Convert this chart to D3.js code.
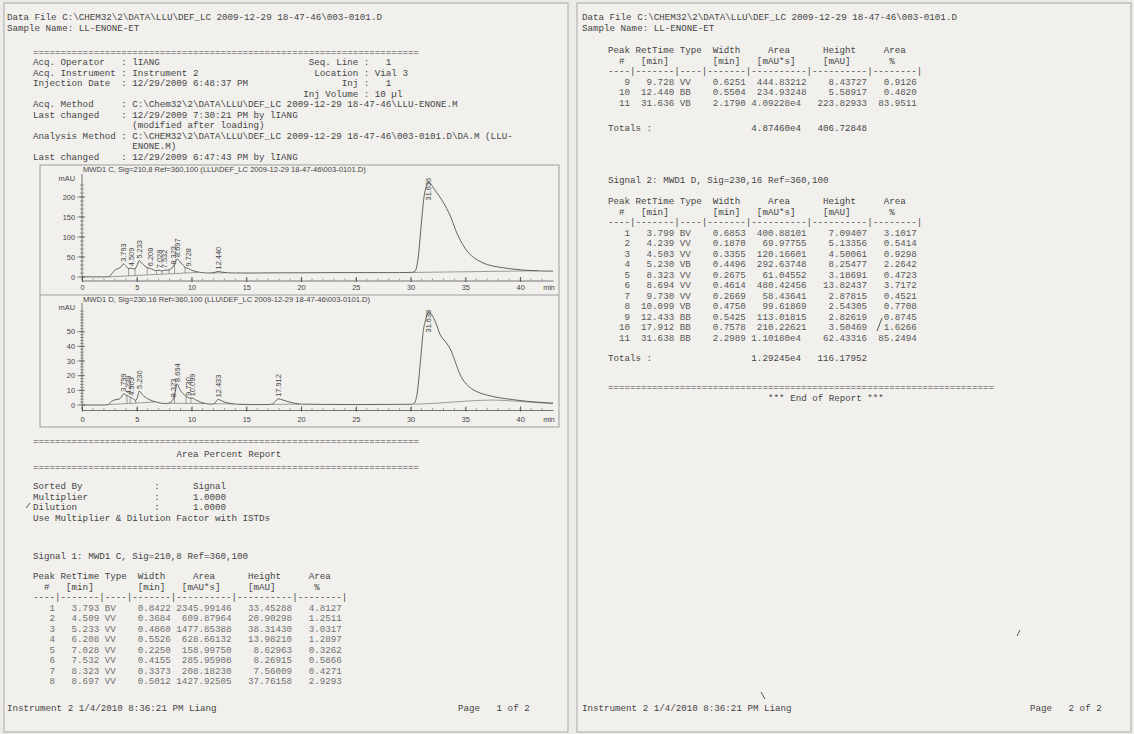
<!DOCTYPE html>
<html>
<head>
<meta charset="utf-8">
<script src="https://cdnjs.cloudflare.com/ajax/libs/d3/7.8.5/d3.min.js"></script>
<style>
  html, body { margin: 0; padding: 0; background: #ecebe8; }
  svg { display: block; }
  .mono { font-family: "Liberation Mono", "Courier New", monospace; font-size: 9.2px; fill: #454545; }
  .sans { font-family: "Liberation Sans", Arial, sans-serif; fill: #444; }
</style>
</head>
<body>
<svg id="sheet" width="1134" height="734"></svg>
<script>
// ---------------- report text ----------------
const dataFileLine = "Data File C:\\CHEM32\\2\\DATA\\LLU\\DEF_LC 2009-12-29 18-47-46\\003-0101.D";
const sampleLine = "Sample Name: LL-ENONE-ET";
const footerLeft = "Instrument 2 1/4/2010 8:36:21 PM Liang";

// [label, value, right label, right value]
const acqFields = [
  ["Acq. Operator", "lIANG", "Seq. Line", "  1"],
  ["Acq. Instrument", "Instrument 2", "Location", "Vial 3"],
  ["Injection Date", "12/29/2009 6:48:37 PM", "Inj", "  1"],
  ["", "", "Inj Volume", "10 µl"],
  ["Acq. Method", "C:\\Chem32\\2\\DATA\\LLU\\DEF_LC 2009-12-29 18-47-46\\LLU-ENONE.M"],
  ["Last changed", "12/29/2009 7:30:21 PM by lIANG"],
  ["", "(modified after loading)"],
  ["Analysis Method", "C:\\CHEM32\\2\\DATA\\LLU\\DEF_LC 2009-12-29 18-47-46\\003-0101.D\\DA.M (LLU-"],
  ["", "ENONE.M)"],
  ["Last changed", "12/29/2009 6:47:43 PM by lIANG"]
];

const reportFields = [
  ["Sorted By", "Signal"],
  ["Multiplier", "1.0000"],
  ["Dilution", "1.0000"]
];

const signal1Name = "Signal 1: MWD1 C, Sig=210,8 Ref=360,100";
const signal2Name = "Signal 2: MWD1 D, Sig=230,16 Ref=360,100";

// peak tables: peak, RetTime, Type, Width, Area, Height, Area%
const signal1Peaks = [
  [1, "3.793", "BV", "0.8422", "2345.99146", "33.45288", "4.8127"],
  [2, "4.509", "VV", "0.3684", "609.87964", "20.90298", "1.2511"],
  [3, "5.233", "VV", "0.4860", "1477.85388", "38.31430", "3.0317"],
  [4, "6.208", "VV", "0.5526", "628.66132", "13.98210", "1.2897"],
  [5, "7.028", "VV", "0.2250", "158.99750", "8.62963", "0.3262"],
  [6, "7.532", "VV", "0.4155", "285.95908", "8.26915", "0.5866"],
  [7, "8.323", "VV", "0.3373", "208.18230", "7.56009", "0.4271"],
  [8, "8.697", "VV", "0.5012", "1427.92505", "37.76158", "2.9293"],
  [9, "9.728", "VV", "0.6251", "444.83212", "8.43727", "0.9126"],
  [10, "12.440", "BB", "0.5504", "234.93248", "5.58917", "0.4820"],
  [11, "31.636", "VB", "2.1790", "4.09228e4", "223.82933", "83.9511"]
];
const signal1Totals = ["4.87460e4", "406.72848"];

const signal2Peaks = [
  [1, "3.799", "BV", "0.6853", "400.88101", "7.09407", "3.1017"],
  [2, "4.239", "VV", "0.1870", "69.97755", "5.13356", "0.5414"],
  [3, "4.503", "VV", "0.3355", "120.16601", "4.50061", "0.9298"],
  [4, "5.230", "VB", "0.4496", "292.63748", "8.25477", "2.2642"],
  [5, "8.323", "VV", "0.2675", "61.04552", "3.18691", "0.4723"],
  [6, "8.694", "VV", "0.4614", "480.42456", "13.82437", "3.7172"],
  [7, "9.730", "VV", "0.2669", "58.43641", "2.87815", "0.4521"],
  [8, "10.099", "VB", "0.4750", "99.61869", "2.54305", "0.7708"],
  [9, "12.433", "BB", "0.5425", "113.01815", "2.82619", "0.8745"],
  [10, "17.912", "BB", "0.7578", "210.22621", "3.50469", "1.6266"],
  [11, "31.638", "BB", "2.2989", "1.10180e4", "62.43316", "85.2494"]
];
const signal2Totals = ["1.29245e4", "116.17952"];

// ---------------- chromatogram traces [min, mAU] ----------------
const chart1Title = "MWD1 C, Sig=210,8 Ref=360,100 (LLU\\DEF_LC 2009-12-29 18-47-46\\003-0101.D)";
const chart2Title = "MWD1 D, Sig=230,16 Ref=360,100 (LLU\\DEF_LC 2009-12-29 18-47-46\\003-0101.D)";

const timeTicks = [0, 5, 10, 15, 20, 25, 30, 35, 40];
const chart1YTicks = [0, 50, 100, 150, 200];
const chart2YTicks = [0, 10, 20, 30, 40, 50];

const chart1Trace = [
  [0,0.4],[1,0.3],[2,0.3],[2.4,0.6],[2.6,4],[2.8,11],[3.0,17],[3.3,21],[3.55,25],[3.793,33],
  [4.0,28],[4.25,21],[4.509,22],[4.75,20],[5.0,27],[5.233,41],[5.45,35],[5.75,27],[6.0,23],
  [6.208,22],[6.5,18],[6.8,16],[7.028,17],[7.3,15],[7.532,17],[7.8,17],[8.1,20],[8.323,26],
  [8.5,36],[8.697,45],[8.9,40],[9.2,30],[9.5,23],[9.728,21],[10.0,17],[10.5,13],[11.0,11],
  [11.6,10],[12.0,10.5],[12.44,14],[12.8,12],[13.3,10.5],[14,10],[16,10],[18,10.5],[20,10.5],
  [23,11],[26,11],[29,11],[30.1,11.5],[30.4,14],[30.7,50],[31.0,140],[31.25,205],[31.45,228],
  [31.636,236],[31.85,232],[32.2,218],[32.6,203],[33.0,186],[33.3,171],[33.7,148],[34.1,118],
  [34.5,94],[34.9,75],[35.3,60],[35.8,48],[36.4,38],[37.0,31],[38.0,25],[39.0,21],[40.0,18],
  [41.0,16],[42.0,15],[43.0,14.5]
];
const chart1Baselines = [
  [[2.45,0.4],[10.6,11.5]],
  [[11.9,10.3],[13.1,10.6]],
  [[30.2,11.4],[41.6,15.5]]
];
const chart1Drops = [4.25, 4.85, 5.95, 6.8, 7.3, 7.95, 8.45, 9.4];

const chart2Trace = [
  [0,0],[1,0],[2,0],[2.4,0.3],[2.7,2.5],[3.0,3.5],[3.4,4],[3.6,5.5],[3.799,7.6],[4.0,6.8],
  [4.239,6],[4.4,5.2],[4.503,5],[4.7,4],[4.9,3.2],[5.05,5],[5.23,9.6],[5.45,7.5],[5.8,5.2],
  [6.2,3.5],[6.7,2.2],[7.2,1.3],[7.7,1],[8.0,1.6],[8.2,2.6],[8.323,4],[8.5,9],[8.694,14.4],
  [8.9,11],[9.2,8],[9.5,6],[9.73,5],[9.9,4.8],[10.099,4.6],[10.4,3.4],[10.8,2],[11.3,1],
  [11.8,0.6],[12.1,1],[12.25,2.5],[12.433,3.9],[12.7,3],[13.1,1.8],[13.6,1],[14.2,0.5],
  [15.5,0.3],[17.0,0.3],[17.4,0.8],[17.65,2.5],[17.912,4.2],[18.3,3.5],[18.8,2.3],[19.4,1.2],
  [20,0.6],[22,0.4],[25,0.3],[28,0.4],[30,0.5],[30.3,1],[30.6,8],[30.9,30],[31.15,50],
  [31.4,59],[31.638,63.5],[31.9,62],[32.3,56],[32.7,48],[33.2,43],[33.7,37],[34.1,29],
  [34.5,21],[34.9,16],[35.3,12.7],[35.8,10],[36.5,7.8],[37.5,5.8],[38.5,4.5],[39.5,3.5],
  [40.5,2.6],[41.5,2],[42.5,1.5],[43,1.3]
];
const chart2Baselines = [
  [[2.45,0.3],[6.6,2.0]],
  [[7.9,1.2],[11.2,1.0]],
  [[12.0,0.8],[13.8,0.8]],
  [[17.3,0.4],[19.8,0.6]],
  [[30.3,0.5],[32.5,1.3],[35,2.6],[37.5,3.4],[40,2.4],[43,0.9]]
];
const chart2Drops = [4.1, 4.4, 4.9, 8.45, 9.5, 9.95];

// ---------------- drawing ----------------
const svg = d3.select("#sheet");
const CW = 5.52;          // character advance of the report font
const LH = 10.5;          // report line height

svg.append("rect").attr("width", 1134).attr("height", 734).attr("fill", "#ecebe8");
// page outlines
svg.append("rect").attr("x", 4).attr("y", 3).attr("width", 564).attr("height", 729)
  .attr("fill", "#f1f0ed").attr("stroke", "#9a9a9a").attr("stroke-width", 0.8);
svg.append("rect").attr("x", 577).attr("y", 3).attr("width", 554).attr("height", 729)
  .attr("fill", "#f1f0ed").attr("stroke", "#9a9a9a").attr("stroke-width", 0.8);

function mono(x, y, str, fill) {
  const t = svg.append("text").attr("class", "mono")
    .attr("x", x).attr("y", y)
    .attr("xml:space", "preserve").style("white-space", "pre")
    .text(str);
  if (fill) t.style("fill", fill);
  return t;
}

const eqLine = n => "=".repeat(n);
const tableHead1 = "Peak RetTime Type  Width     Area      Height     Area";
const tableHead2 = "  #   [min]        [min]   [mAU*s]     [mAU]       %";
const tableDash  = "----|-------|----|-------|----------|----------|--------|";
function rowText(r) {
  const area = r[4].includes("e") ? r[4] + " " : r[4];
  return String(r[0]).padStart(4) + " " + r[1].padStart(7) + " " + r[2].padEnd(4) + " " +
    r[3].padStart(7) + " " + area.padStart(10) + " " + r[5].padStart(10) + " " + r[6].padStart(8);
}
function totalsText(t) {
  return "Totals :".padEnd(26) + (t[0] + " ").padStart(10) + " " + t[1].padStart(10);
}

// ---- page 1 ----
const p1L = 7, p1I = 33;
mono(p1L, 20, dataFileLine);
mono(p1L, 31, sampleLine);
mono(p1I, 55, eqLine(70));
acqFields.forEach((f, i) => {
  let s = f[0].padEnd(16) + (f[0] ? ": " : "  ") + f[1];
  if (f[2]) s = s.padEnd(59 - f[2].length) + f[2] + " : " + f[3];
  mono(p1I, 65 + i * LH, s);
});

mono(p1I, 444, eqLine(70));
mono(p1I + 26 * CW, 457, "Area Percent Report");
mono(p1I, 470, eqLine(70));
reportFields.forEach((f, i) => mono(p1I, 489 + i * LH, f[0].padEnd(22) + ":      " + f[1]));
mono(p1I, 489 + 3 * LH, "Use Multiplier & Dilution Factor with ISTDs");
mono(p1I, 559, signal1Name);
mono(p1I, 579, tableHead1);
mono(p1I, 589.5, tableHead2);
mono(p1I, 600, tableDash);
signal1Peaks.slice(0, 8).forEach((r, i) => mono(p1I, 610.5 + i * LH, rowText(r), "#707070"));
mono(p1L, 711, footerLeft);
mono(458, 711, "Page   1 of 2");

// ---- page 2 ----
const p2L = 582, p2I = 608;
mono(p2L, 20, dataFileLine);
mono(p2L, 31, sampleLine);
mono(p2I, 53, tableHead1);
mono(p2I, 63.5, tableHead2);
mono(p2I, 74, tableDash);
signal1Peaks.slice(8).forEach((r, i) => mono(p2I, 84.5 + i * LH, rowText(r), "#585858"));
mono(p2I, 131, totalsText(signal1Totals));
mono(p2I, 183, signal2Name);
mono(p2I, 204, tableHead1);
mono(p2I, 214.5, tableHead2);
mono(p2I, 225, tableDash);
signal2Peaks.forEach((r, i) => mono(p2I, 235.5 + i * LH, rowText(r), "#585858"));
mono(p2I, 361, totalsText(signal2Totals));
mono(p2I, 390, eqLine(70));
mono(p2I + 29 * CW, 401, "*** End of Report ***");
mono(p2L, 711, footerLeft);
mono(1030, 711, "Page   2 of 2");

// pen marks on the printout
const penMarks = [
  [[26, 508], [30, 503]],
  [[882, 318], [877, 331]],
  [[761, 692], [765, 699]],
  [[1017, 636], [1020, 630]]
];
penMarks.forEach(m => svg.append("path").attr("d", d3.line()(m))
  .attr("stroke", "#555").attr("stroke-width", 1).attr("fill", "none"));

// ---- chromatograms ----
svg.append("rect").attr("x", 40).attr("y", 165).attr("width", 519).attr("height", 262)
  .attr("fill", "none").attr("stroke", "#8a8a8a").attr("stroke-width", 0.8);
svg.append("line").attr("x1", 40).attr("x2", 559).attr("y1", 295).attr("y2", 295)
  .attr("stroke", "#8a8a8a").attr("stroke-width", 0.8);

const xScale = d3.scaleLinear().domain([0, 43]).range([82, 553]);

function chromatogram(o) {
  const g = svg.append("g");
  const y = d3.scaleLinear().domain(o.yDomain).range(o.yRange);
  const clipId = "clip" + o.id;
  svg.append("clipPath").attr("id", clipId).append("rect")
    .attr("x", xScale(0)).attr("y", o.plotTop).attr("width", xScale(43) - xScale(0))
    .attr("height", o.axisY - o.plotTop);

  g.append("text").attr("class", "sans").attr("x", 83).attr("y", o.titleY)
    .attr("font-size", 7.6).text(o.title);

  // y axis
  g.append("line").attr("x1", 82).attr("x2", 82).attr("y1", o.axisY).attr("y2", o.plotTop - 3)
    .attr("stroke", "#555").attr("stroke-width", 0.8);
  const yMinor = d3.range(o.minorStep, o.yMax + 0.001, o.minorStep);
  g.selectAll(null).data(yMinor).join("line")
    .attr("x1", 80).attr("x2", 84).attr("y1", d => y(d)).attr("y2", d => y(d))
    .attr("stroke", "#666").attr("stroke-width", 0.6);
  g.selectAll(null).data(o.yTicks).join("line")
    .attr("x1", 77.5).attr("x2", 85).attr("y1", d => y(d)).attr("y2", d => y(d))
    .attr("stroke", "#555").attr("stroke-width", 0.8);
  g.selectAll(null).data(o.yTicks).join("text").attr("class", "sans")
    .attr("font-size", 7.4).attr("text-anchor", "end")
    .attr("x", 75).attr("y", d => y(d) + 2.6).text(d => d);
  g.append("text").attr("class", "sans").attr("font-size", 7.4).attr("text-anchor", "end")
    .attr("x", 75).attr("y", o.plotTop + 4).text("mAU");

  // x axis
  const ax = g.append("g").attr("transform", `translate(0,${o.axisY})`)
    .call(d3.axisBottom(xScale).tickValues(timeTicks).tickSize(0).tickPadding(o.labelPad)
      .tickFormat(d3.format("d")));
  ax.select(".domain").attr("stroke", "#555").attr("stroke-width", 0.8);
  ax.selectAll(".tick line").attr("stroke", "#555").attr("y1", -3.5).attr("y2", 1.5);
  ax.selectAll(".tick text").attr("font-family", "Liberation Sans, Arial, sans-serif")
    .attr("font-size", 7.4).attr("fill", "#444");
  g.selectAll(null).data(d3.range(1, 43)).join("line")
    .attr("x1", d => xScale(d)).attr("x2", d => xScale(d))
    .attr("y1", o.axisY - 2).attr("y2", o.axisY)
    .attr("stroke", "#666").attr("stroke-width", 0.6);
  g.append("text").attr("class", "sans").attr("font-size", 7.2).attr("text-anchor", "middle")
    .attr("x", 549).attr("y", o.axisY + o.labelPad + 5.6).text("min");

  const line = d3.line().x(d => xScale(d[0])).y(d => y(d[1]));
  const curve = d3.line().x(d => xScale(d[0])).y(d => y(d[1])).curve(d3.curveMonotoneX);
  const pg = g.append("g").attr("clip-path", `url(#${clipId})`);

  // integration baselines and drop lines
  o.baselines.forEach(b => {
    pg.append("path").attr("d", (b.length > 2 ? curve : line)(b))
      .attr("fill", "none").attr("stroke", "#777").attr("stroke-width", 0.7);
  });
  const traceAt = t => {
    const i = d3.bisector(d => d[0]).left(o.trace, t);
    const a = o.trace[Math.max(0, i - 1)], b = o.trace[Math.min(o.trace.length - 1, i)];
    return a[0] === b[0] ? a[1] : a[1] + (b[1] - a[1]) * (t - a[0]) / (b[0] - a[0]);
  };
  const baseAt = t => {
    const seg = o.baselines.find(b => t >= b[0][0] && t <= b[b.length - 1][0]);
    if (!seg) return 0;
    const a = seg[0], b = seg[seg.length - 1];
    return a[1] + (b[1] - a[1]) * (t - a[0]) / (b[0] - a[0]);
  };
  pg.selectAll(null).data(o.drops).join("line")
    .attr("x1", d => xScale(d)).attr("x2", d => xScale(d))
    .attr("y1", d => y(baseAt(d))).attr("y2", d => y(traceAt(d)))
    .attr("stroke", "#777").attr("stroke-width", 0.7);

  pg.append("path").attr("d", curve(o.trace))
    .attr("fill", "none").attr("stroke", "#4a4a4a").attr("stroke-width", 0.85);

  // retention-time labels
  const labelLen = s => s.length * 4.15;
  g.selectAll(null).data(o.peaks).join("text").attr("class", "sans")
    .attr("font-size", 7.4)
    .attr("transform", p => {
      const t = +p[1];
      let base = y(traceAt(t)) - 2;
      const top = o.labelTop;
      if (base - labelLen(p[1]) < top) base = top + labelLen(p[1]);
      return `translate(${xScale(t) + 2.6},${base}) rotate(-90)`;
    })
    .text(p => p[1]);
}

chromatogram({
  id: 1, title: chart1Title, titleY: 171.5, trace: chart1Trace, baselines: chart1Baselines,
  drops: chart1Drops, peaks: signal1Peaks, yDomain: [0, 200], yRange: [277, 197],
  yTicks: chart1YTicks, minorStep: 10, yMax: 235, plotTop: 177, labelTop: 175.5,
  axisY: 280.5, labelPad: 4.2
});
chromatogram({
  id: 2, title: chart2Title, titleY: 301.5, trace: chart2Trace, baselines: chart2Baselines,
  drops: chart2Drops, peaks: signal2Peaks, yDomain: [0, 50], yRange: [405, 331.7],
  yTicks: chart2YTicks, minorStep: 2, yMax: 64, plotTop: 306, labelTop: 307.5,
  axisY: 410, labelPad: 6.5
});
</script>
</body>
</html>
